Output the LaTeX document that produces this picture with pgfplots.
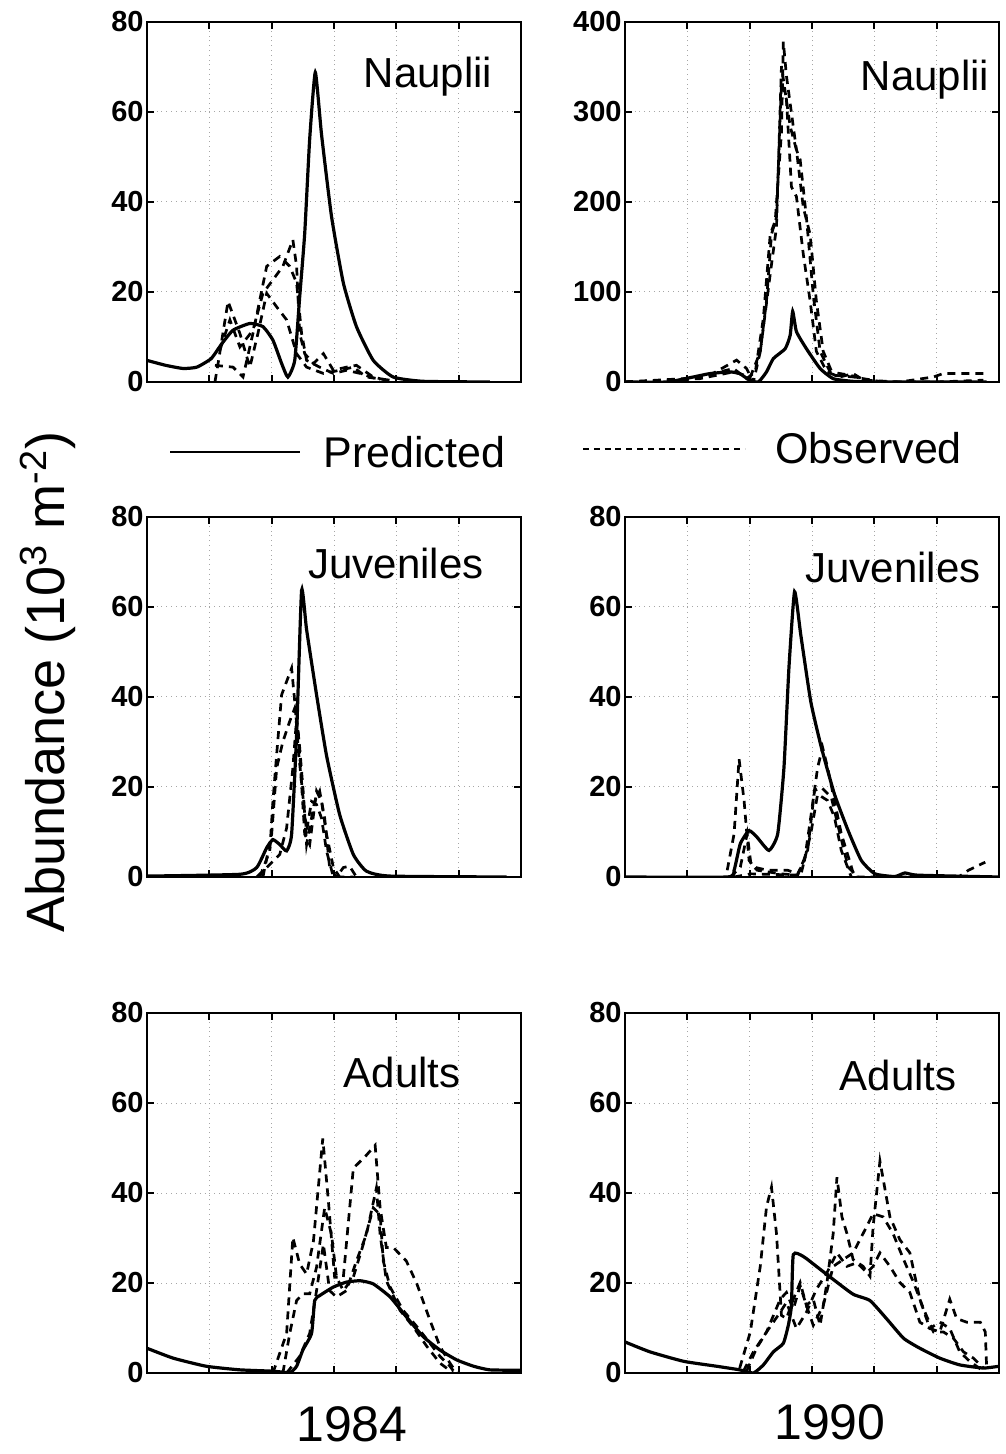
\documentclass[border=0pt]{standalone}
\usepackage{fontspec}
\setmainfont{Liberation Sans}
\usepackage{pgfplots}
\pgfplotsset{compat=1.18}

\newcommand\tickfont{\fontsize{14.5}{16}\selectfont\bfseries}
\newcommand\titlefont{\fontsize{21}{24}\selectfont}

\pgfplotsset{
  panel/.style={
    scale only axis, width=187pt, height=180pt, anchor=south west,
    xmin=0, xmax=6, ymin=0, ymax=80,
    xtick={1,...,5}, xticklabels={}, ytick={0,20,...,80},
    grid=major, major grid style={gray!70, dotted, line width=0.5pt},
    tick align=inside, major tick length=3.5pt,
    axis line style={line width=1.3pt},
    every tick/.style={black, line width=1pt},
    tick label style={font=\tickfont, inner sep=1.5pt},
    /pgf/number format/assume math mode=true,
  },
  pred/.style={black, line width=1.6pt, smooth, tension=0.3},
  obs/.style={black, line width=1.35pt, dash pattern=on 4pt off 3pt},
}

\begin{document}
\begin{tikzpicture}
\path[use as bounding box] (0,0) rectangle (502.5pt,727pt);

% ---- 1984 Nauplii
\begin{axis}[panel, at={(73.5pt,536pt)}]
  \addplot[pred] coordinates {(0,4.8)(0.3,3.7)(0.58,3.0)(0.8,3.3)(1.03,5.2)(1.2,8.5)
    (1.38,11.5)(1.65,13.0)(1.86,12.3)(2.02,9.3)(2.16,4.1)(2.26,1.1)(2.37,4.8)(2.45,19)
    (2.53,33)(2.61,54)(2.70,68.8)(2.80,55)(2.96,36.8)(3.15,22)(3.36,12.3)(3.63,4.8)
    (3.95,1.1)(4.43,0.15)(5.5,0)};
  \addplot[obs] coordinates {(1.09,0)(1.14,4.1)(1.30,17.9)(1.49,10.8)(1.65,3.3)(1.78,10.8)
    (1.92,19.7)(2.08,16.7)(2.24,13.8)(2.40,6.3)(2.56,3.3)(2.83,1.9)(3.09,2.6)(3.31,3.3)
    (3.52,1.1)(3.90,0.4)};
  \addplot[obs] coordinates {(1.09,3.7)(1.38,3.3)(1.54,1.1)(1.70,10.8)(1.92,25.7)(2.13,27.9)
    (2.29,25.7)(2.40,22)(2.48,10.8)(2.56,4.8)(2.77,3.3)(2.99,1.9)(3.20,2.6)(3.42,1.9)(3.74,0.4)};
  \addplot[obs] coordinates {(1.17,7.1)(1.33,13.8)(1.49,7.8)(1.70,11.5)(1.86,19.7)(2.02,22.7)
    (2.18,25.7)(2.34,31.6)(2.40,25.7)(2.45,10.8)(2.53,6.3)(2.67,4.1)(2.83,6.3)(2.99,2.6)
    (3.20,3.3)(3.36,3.7)(3.63,1.1)(3.84,0.4)};
  \node[font=\titlefont] at (rel axis cs:0.751,0.847) {Nauplii};
\end{axis}

% ---- 1990 Nauplii
\begin{axis}[panel, at={(312.5pt,536pt)}, ymax=400, ytick={0,100,...,400}]
  \addplot[pred] coordinates {(0,0)(0.67,0)(1.1,5.6)(1.36,9.3)(1.68,11.2)(1.84,9.3)(2.0,1.9)
    (2.14,0)(2.27,11.2)(2.38,26)(2.57,37)(2.65,52)(2.69,78.5)(2.75,56)(2.91,37)(3.13,15)
    (3.34,3.7)(3.66,0.7)(4.14,0)(5.8,0)};
  \addplot[obs] coordinates {(0,0)(0.94,1.9)(1.31,7.5)(1.74,15)(1.95,3.7)(2.09,11.2)(2.22,71)
    (2.33,164)(2.41,179)(2.51,277)(2.54,378)(2.59,340)(2.67,299)(2.75,258)(2.81,247)(2.91,183)
    (3.02,97)(3.13,34)(3.29,11.2)(3.61,7.5)(3.88,1.9)(4.41,0)(4.95,5.6)(5.11,9.5)(5.75,9.5)};
  \addplot[obs] coordinates {(0,0)(0.94,3.7)(1.36,7.5)(1.79,24.3)(1.95,15)(2.06,0)(2.17,33.6)
    (2.27,90)(2.35,164)(2.43,183)(2.51,333)(2.59,314)(2.67,217)(2.75,206)(2.86,142)(2.97,90)
    (3.07,34)(3.24,11)(3.45,5.6)(3.66,9.3)(3.88,0)(5.0,0)(5.75,2)};
  \addplot[obs] coordinates {(0,0)(1.20,3.7)(1.74,11.2)(2.01,5.6)(2.17,33.6)(2.33,120)(2.43,172)
    (2.51,351)(2.65,284)(2.75,258)(2.86,194)(2.97,164)(3.07,90)(3.18,34)(3.34,7.5)(3.66,5.6)(4.14,0)};
  \node[font=\titlefont] at (rel axis cs:0.802,0.841) {Nauplii};
\end{axis}

% ---- 1984 Juveniles
\begin{axis}[panel, at={(73.5pt,288.5pt)}]
  \addplot[pred] coordinates {(0,0.2)(1.49,0.6)(1.76,2.1)(1.92,6.5)(2.02,8.3)(2.13,7.2)(2.24,5.8)
    (2.32,9.5)(2.40,31.6)(2.48,63.7)(2.56,55)(2.72,40.5)(2.88,27)(3.09,13.9)(3.31,5)(3.52,1.3)
    (3.9,0.2)(5.77,0)};
  \addplot[obs] coordinates {(1.76,0)(1.92,2.1)(2.02,3.5)(2.13,5.0)(2.24,10.9)(2.34,24.2)(2.40,35.3)
    (2.45,28.7)(2.51,18.3)(2.56,7.2)(2.61,10.9)(2.69,16.8)(2.77,19.1)(2.85,13.1)(2.93,2.1)(3.04,0)
    (3.15,2.1)(3.25,2.4)(3.36,0)};
  \addplot[obs] coordinates {(1.81,0)(1.97,5.8)(2.02,16.8)(2.08,27.2)(2.16,40.5)(2.26,44.2)(2.32,46.4)
    (2.37,39)(2.43,27.9)(2.51,16.8)(2.56,10.2)(2.64,16.8)(2.72,16.1)(2.80,13.1)(2.88,5.8)(2.99,0)(3.31,0)};
  \addplot[obs] coordinates {(1.86,0)(2.0,9.5)(2.08,24.2)(2.18,30.1)(2.29,34.6)(2.37,37.5)(2.43,31.6)
    (2.48,20.5)(2.53,9.5)(2.61,7.2)(2.72,19.1)(2.80,16.8)(2.88,9.5)(2.99,2.1)(3.09,0)};
  \node[font=\titlefont] at (rel axis cs:0.666,0.870) {Juveniles};
\end{axis}

% ---- 1990 Juveniles
\begin{axis}[panel, at={(312.5pt,288.5pt)}]
  \addplot[pred] coordinates {(0,0)(1.64,0)(1.75,1.5)(1.85,7.4)(1.99,10.3)(2.12,8.8)(2.31,5.9)
    (2.45,9.6)(2.55,24.3)(2.63,46.5)(2.72,63.4)(2.82,53.8)(2.98,39)(3.15,28.8)(3.36,18.4)
    (3.58,10.3)(3.79,3.7)(4.01,0.7)(4.33,0.1)(4.49,0.9)(4.7,0.4)(6,0)};
  \addplot[obs] coordinates {(1.64,1.5)(1.75,9.6)(1.83,26.2)(1.91,17)(1.99,3.7)(2.07,2.2)(2.28,1.5)
    (2.61,1.5)(2.77,0.7)(2.88,3.7)(2.98,13.3)(3.09,24.3)(3.17,28.8)(3.25,24.3)(3.36,17)(3.47,9.6)
    (3.60,3.7)(3.68,0)(5.35,0)(5.51,1.5)(5.78,3.3)};
  \addplot[obs] coordinates {(1.69,0)(1.85,2.2)(1.96,9.6)(2.02,2.9)(2.12,1.5)(2.50,0.7)(2.77,0.4)
    (2.93,5.9)(3.04,19.2)(3.15,19.9)(3.31,17.7)(3.41,11.8)(3.58,2.2)(3.74,0)};
  \addplot[obs] coordinates {(1.75,0)(2.02,0.7)(2.82,0.4)(2.98,9.6)(3.09,18.4)(3.25,17)(3.36,13.3)
    (3.47,5.9)(3.63,0)};
  \node[font=\titlefont] at (rel axis cs:0.717,0.859) {Juveniles};
\end{axis}

% ---- 1984 Adults
\begin{axis}[panel, at={(73.5pt,40.5pt)}]
  \addplot[pred] coordinates {(0,5.5)(0.42,3.3)(0.95,1.5)(1.49,0.7)(2.02,0.4)(2.29,0.1)(2.40,1.5)
    (2.50,5.1)(2.64,8.8)(2.69,16.1)(2.77,17.2)(2.99,19.1)(3.20,20.2)(3.42,20.5)(3.63,19.8)
    (3.90,16.9)(4.16,12.5)(4.43,8.1)(4.70,5.1)(4.97,2.9)(5.24,1.5)(5.5,0.7)(6,0.6)};
  \addplot[obs] coordinates {(2.02,0)(2.24,8.8)(2.34,30.1)(2.45,24.2)(2.56,22)(2.67,29.3)(2.82,52.1)
    (2.91,38.2)(3.01,21.3)(3.15,21.3)(3.31,45.5)(3.52,48.4)(3.66,50.6)(3.74,36.7)(3.84,27.9)
    (3.95,27.9)(4.16,24.9)(4.33,19.8)(4.54,11.7)(4.70,5.9)(4.86,2.2)(4.97,0)};
  \addplot[obs] coordinates {(2.18,0)(2.29,8.8)(2.40,16.1)(2.50,17.6)(2.61,17.6)(2.72,23.5)(2.85,36.7)
    (2.96,30.8)(3.04,21.3)(3.15,18.3)(3.31,21.3)(3.47,28.6)(3.63,36.7)(3.74,35.2)(3.79,24.9)
    (3.90,19.1)(4.11,13.9)(4.33,10.3)(4.54,6.6)(4.70,3.7)(4.86,1.5)(4.94,0)};
  \addplot[obs] coordinates {(2.24,0)(2.45,3.7)(2.61,8.8)(2.72,18.3)(2.83,28.6)(2.93,18.3)(3.04,16.9)
    (3.20,18.3)(3.36,24.9)(3.52,30.8)(3.68,41.1)(3.74,30.8)(3.84,20.5)(4.06,13.9)(4.27,10.3)
    (4.49,5.9)(4.70,2.2)(4.91,0)};
  \node[font=\titlefont] at (rel axis cs:0.682,0.835) {Adults};
\end{axis}

% ---- 1990 Adults
\begin{axis}[panel, at={(312.5pt,40.5pt)}]
  \addplot[pred] coordinates {(0,6.9)(0.4,4.7)(0.94,2.6)(1.47,1.5)(1.84,0.7)(2.06,0)(2.22,1.8)
    (2.38,4.7)(2.54,6.6)(2.62,10.6)(2.67,15)(2.70,26.3)(2.86,25.9)(3.07,23.7)(3.34,20.8)
    (3.66,17.5)(3.93,16.1)(4.2,12)(4.47,7.7)(4.73,5.5)(5.05,3.3)(5.37,1.8)(5.75,1.1)(6,1.5)};
  \addplot[obs] coordinates {(1.84,1.1)(2.01,9.1)(2.17,23.7)(2.27,36.9)(2.35,41.3)(2.43,31)(2.51,12.8)
    (2.59,12.1)(2.70,16.4)(2.81,20.1)(2.91,15)(3.02,16.4)(3.13,10.6)(3.24,20.1)(3.34,31)(3.40,43.5)
    (3.48,34.7)(3.56,31)(3.66,25.2)(3.82,23.7)(3.93,21.5)(3.98,32.5)(4.09,47.1)(4.25,34.7)
    (4.41,29.6)(4.57,26.7)(4.73,16.4)(4.89,9.9)(5.05,9.1)(5.21,16.4)(5.32,12.1)(5.48,11.3)
    (5.70,11.3)(5.78,9.1)(5.80,1.8)};
  \addplot[obs] coordinates {(1.90,0.4)(2.06,4.7)(2.27,9.1)(2.49,16.4)(2.59,17.9)(2.70,14.2)(2.81,19.4)
    (2.91,15)(3.02,10.6)(3.18,15)(3.34,23.7)(3.50,25.2)(3.66,26.7)(3.82,31)(3.98,35.4)(4.14,34.7)
    (4.30,31)(4.47,25.2)(4.63,20.1)(4.79,14.2)(4.95,9.1)(5.11,9.1)(5.27,7.7)(5.43,4.7)(5.59,3.3)(5.75,1.1)};
  \addplot[obs] coordinates {(1.95,0.4)(2.11,5.5)(2.27,9.1)(2.49,13.5)(2.59,15.7)(2.75,9.9)(2.91,13.5)
    (3.07,18.6)(3.24,22.3)(3.40,26.7)(3.56,23.7)(3.72,24.5)(3.88,22.3)(3.98,23.7)(4.09,26.7)
    (4.25,23.7)(4.41,20.1)(4.57,17.9)(4.73,11.3)(4.89,9.9)(5.05,11.3)(5.21,9.9)(5.37,4.7)(5.53,2.6)(5.75,0.4)};
  \node[font=\titlefont] at (rel axis cs:0.730,0.826) {Adults};
\end{axis}

% legend
\draw[black, line width=1.2pt] (85pt,501pt) -- (150pt,501pt);
\node[anchor=west, font=\fontsize{21.5}{24}\selectfont, inner sep=0pt] at (161.5pt,501pt) {Predicted};
\draw[black, line width=1.1pt, dash pattern=on 3pt off 2.4pt] (291.5pt,502.5pt) -- (372.5pt,502.5pt);
\node[anchor=west, font=\fontsize{21.5}{24}\selectfont, inner sep=0pt] at (387.5pt,503pt) {Observed};

% shared labels
\node[rotate=90, font=\fontsize{27}{30}\selectfont] at (24pt,386pt) {Abundance (10\textsuperscript{3} m\textsuperscript{-2})};
\node[font=\fontsize{25}{28}\selectfont] at (176pt,15pt) {1984};
\node[font=\fontsize{25}{28}\selectfont] at (415pt,16pt) {1990};
\end{tikzpicture}
\end{document}
